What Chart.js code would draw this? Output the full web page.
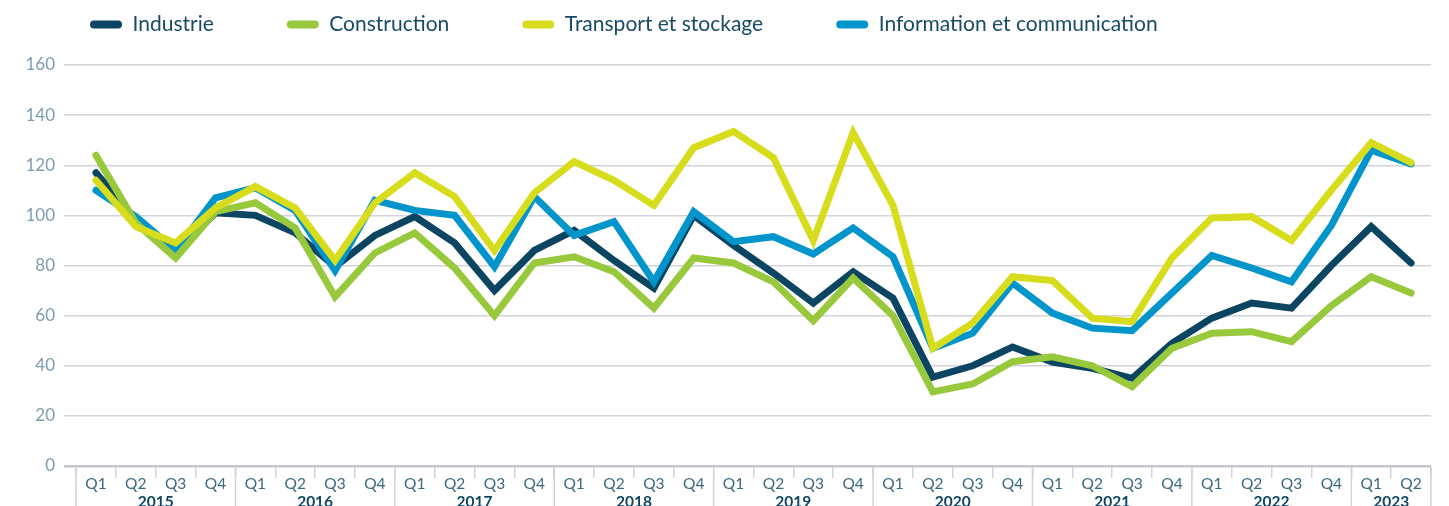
<!DOCTYPE html>
<html>
<head>
<meta charset="utf-8">
<script src="https://cdn.jsdelivr.net/npm/chart.js@4.4.0/dist/chart.umd.min.js"></script>
<style>
  html, body { margin: 0; padding: 0; background: #ffffff; }
  #wrap { position: relative; width: 1449px; height: 506px; }
</style>
</head>
<body>
<div id="wrap"><canvas id="c" width="1449" height="506"></canvas></div>
<script>
const quarterLabels = [
  'Q1','Q2','Q3','Q4','Q1','Q2','Q3','Q4','Q1','Q2','Q3','Q4',
  'Q1','Q2','Q3','Q4','Q1','Q2','Q3','Q4','Q1','Q2','Q3','Q4',
  'Q1','Q2','Q3','Q4','Q1','Q2','Q3','Q4','Q1','Q2'
];
const yearLabels = ['2015','2016','2017','2018','2019','2020','2021','2022','2023'];
const yTicks = [0, 20, 40, 60, 80, 100, 120, 140, 160];

const industrie = [117, 98, 85, 101, 100, 93, 79.5, 92, 99.5, 89, 70, 86,
  94, 82, 71, 100, 88, 77, 65, 77.5, 67, 35.5, 40, 47.5,
  41.5, 39, 35, 49, 59, 65, 63, 80, 95.5, 81];
const construction = [124, 97, 83, 101.5, 105, 95, 67.5, 85, 93, 79, 60, 81,
  83.5, 77.5, 63, 83, 81, 73.5, 58, 75, 60, 29.6, 32.7, 41.6,
  43.6, 40, 31.6, 47, 53, 53.6, 49.6, 64, 75.5, 69];
const transport = [114, 95.5, 89, 103, 111.5, 103, 82, 105, 117, 107.5, 86, 109,
  121.5, 114, 104, 127, 133.5, 123, 90, 133, 104, 47, 57, 75.5,
  74, 59, 57.6, 83, 99, 99.5, 90, 110, 129, 121];
const information = [110, 99.5, 86, 107, 111, 102, 78, 106, 102, 100, 79.5, 107.5,
  92, 97.5, 73.5, 101.5, 89.5, 91.5, 84.6, 95, 83.5, 47, 53, 73,
  61, 55, 54, 69, 84, 79, 73.5, 96, 126, 120.5];

const FONT = 'Lato, "Open Sans", sans-serif';
const GRID = '#d2d4d9';

const legendHeightFix = {
  id: 'legendHeightFix',
  beforeLayout(chart) {
    const lg = chart.legend;
    if (lg && !lg.__fixed) {
      const orig = lg.fit;
      lg.fit = function () { orig.call(this); this.height = 124; };
      lg.__fixed = true;
    }
  }
};

const yearAxis = {
  id: 'yearAxis',
  afterDraw(chart) {
    const xs = chart.scales.x;
    const ctx = chart.ctx;
    const half = (xs.getPixelForValue(1) - xs.getPixelForValue(0)) / 2;
    ctx.save();
    ctx.strokeStyle = GRID;
    ctx.lineWidth = 1.5;
    const n = quarterLabels.length;
    const bounds = [];
    for (let k = 0; k < n; k += 4) bounds.push(k);
    bounds.forEach((k) => {
      const x = xs.getPixelForValue(k) - half;
      ctx.beginPath();
      ctx.moveTo(x, xs.top + 1);
      ctx.lineTo(x, chart.height);
      ctx.stroke();
    });
    const xr = xs.getPixelForValue(n - 1) + half;
    ctx.beginPath();
    ctx.moveTo(xr, xs.top + 1);
    ctx.lineTo(xr, chart.height);
    ctx.stroke();
    ctx.fillStyle = '#0e4663';
    ctx.font = 'bold 15.5px ' + FONT;
    ctx.textAlign = 'center';
    ctx.textBaseline = 'middle';
    yearLabels.forEach((yl, j) => {
      const a = j * 4;
      const b = Math.min(a + 3, n - 1);
      const cx = (xs.getPixelForValue(a) + xs.getPixelForValue(b)) / 2;
      ctx.fillText(yl, cx, 501.5);
    });
    ctx.restore();
  }
};

const baseGen = Chart.defaults.plugins.legend.labels.generateLabels;

new Chart(document.getElementById('c'), {
  type: 'line',
  data: {
    labels: quarterLabels,
    datasets: [
      { label: 'Industrie', data: industrie, borderColor: '#0b4562', backgroundColor: '#0b4562', order: 3 },
      { label: 'Construction', data: construction, borderColor: '#98c93c', backgroundColor: '#98c93c', order: 1 },
      { label: 'Transport et stockage', data: transport, borderColor: '#d7dc1d', backgroundColor: '#d7dc1d', order: 0 },
      { label: 'Information et communication', data: information, borderColor: '#0295cc', backgroundColor: '#0295cc', order: 2 }
    ]
  },
  options: {
    responsive: false,
    animation: false,
    devicePixelRatio: 1,
    layout: { padding: { left: 17, right: 18, top: -59, bottom: 0 } },
    elements: {
      line: { borderWidth: 7, tension: 0, borderCapStyle: 'round', borderJoinStyle: 'miter' },
      point: { radius: 0, hoverRadius: 0 }
    },
    plugins: {
      tooltip: { enabled: false },
      legend: {
        position: 'top',
        align: 'start',
        labels: {
          boxWidth: 32,
          boxHeight: 8,
          useBorderRadius: true,
          borderRadius: 4,
          padding: 73,
          color: '#184b64',
          font: { family: FONT, size: 21 },
          generateLabels(chart) {
            return baseGen(chart).map((it) => Object.assign(it, { lineWidth: 0 }));
          },
          sort: (a, b) => a.datasetIndex - b.datasetIndex
        }
      }
    },
    scales: {
      x: {
        type: 'category',
        offset: true,
        grid: {
          offset: true,
          drawOnChartArea: false,
          drawTicks: true,
          tickLength: 12,
          color: GRID,
          lineWidth: 1.5
        },
        border: { display: false },
        ticks: {
          autoSkip: false,
          maxRotation: 0,
          padding: -3,
          color: '#3a6981',
          font: { family: FONT, size: 15.5 }
        },
        afterFit(scale) { scale.height = 40; }
      },
      y: {
        min: 0,
        max: 160,
        afterBuildTicks(scale) { scale.ticks = yTicks.map((v) => ({ value: v })); },
        grid: {
          color: (c) => (c.tick && c.tick.value === 0 ? '#c4c7cd' : GRID),
          lineWidth: (c) => (c.tick && c.tick.value === 0 ? 2.5 : 1.5),
          tickLength: 12,
          drawTicks: true
        },
        border: { display: false },
        ticks: {
          padding: 9,
          color: '#7d9cb0',
          font: { family: FONT, size: 17 }
        },
        afterFit(scale) { scale.width = 59; }
      }
    }
  },
  plugins: [legendHeightFix, yearAxis]
});
</script>
</body>
</html>
